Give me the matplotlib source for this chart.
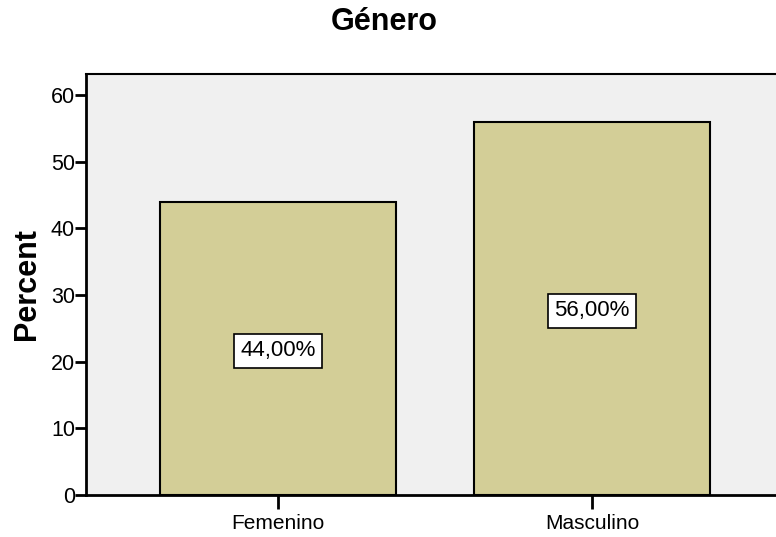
import matplotlib
matplotlib.use("Agg")
import matplotlib.pyplot as plt

plt.rcParams['font.family'] = ['Liberation Sans', 'DejaVu Sans']

categories = ['Femenino', 'Masculino']
percent = [44.0, 56.0]
bar_labels = ['44,00%', '56,00%']

fig = plt.figure(figsize=(7.76, 5.37), dpi=100)
ax = fig.add_axes([86 / 776, 42 / 537, 698 / 776, 421 / 537])
ax.set_facecolor('#F0F0F0')

x = list(range(len(categories)))
ax.bar(x, percent, width=0.75, color='#D3CE97', edgecolor='black', linewidth=1.5, zorder=2)

for xi, v, lab in zip(x, percent, bar_labels):
    ax.text(xi, v / 2, lab, ha='center', va='center_baseline', fontsize=16,
            bbox=dict(boxstyle='square,pad=0.3', facecolor='white', edgecolor='black', linewidth=1.2),
            zorder=3)

ax.set_xlim(-0.611, 1.611)
ax.set_ylim(0, 63.15)
ax.set_xticks(x)
ax.set_xticklabels(categories, fontsize=15)
ax.set_yticks(range(0, 61, 10))
ax.tick_params(axis='y', labelsize=15.5, length=8, width=2, pad=0)
ax.tick_params(axis='x', length=10, width=2, pad=4)

for s in ['left', 'bottom', 'top']:
    ax.spines[s].set_linewidth(2)
ax.spines['top'].set_linewidth(1.5)
ax.spines['right'].set_visible(False)

ax.set_ylabel('Percent', fontsize=22, fontweight='bold', labelpad=6)
fig.text(384 / 776, 1 - 22 / 537, 'Género', ha='center', va='center', fontsize=22, fontweight='bold')

fig.savefig('out.png', dpi=100)
